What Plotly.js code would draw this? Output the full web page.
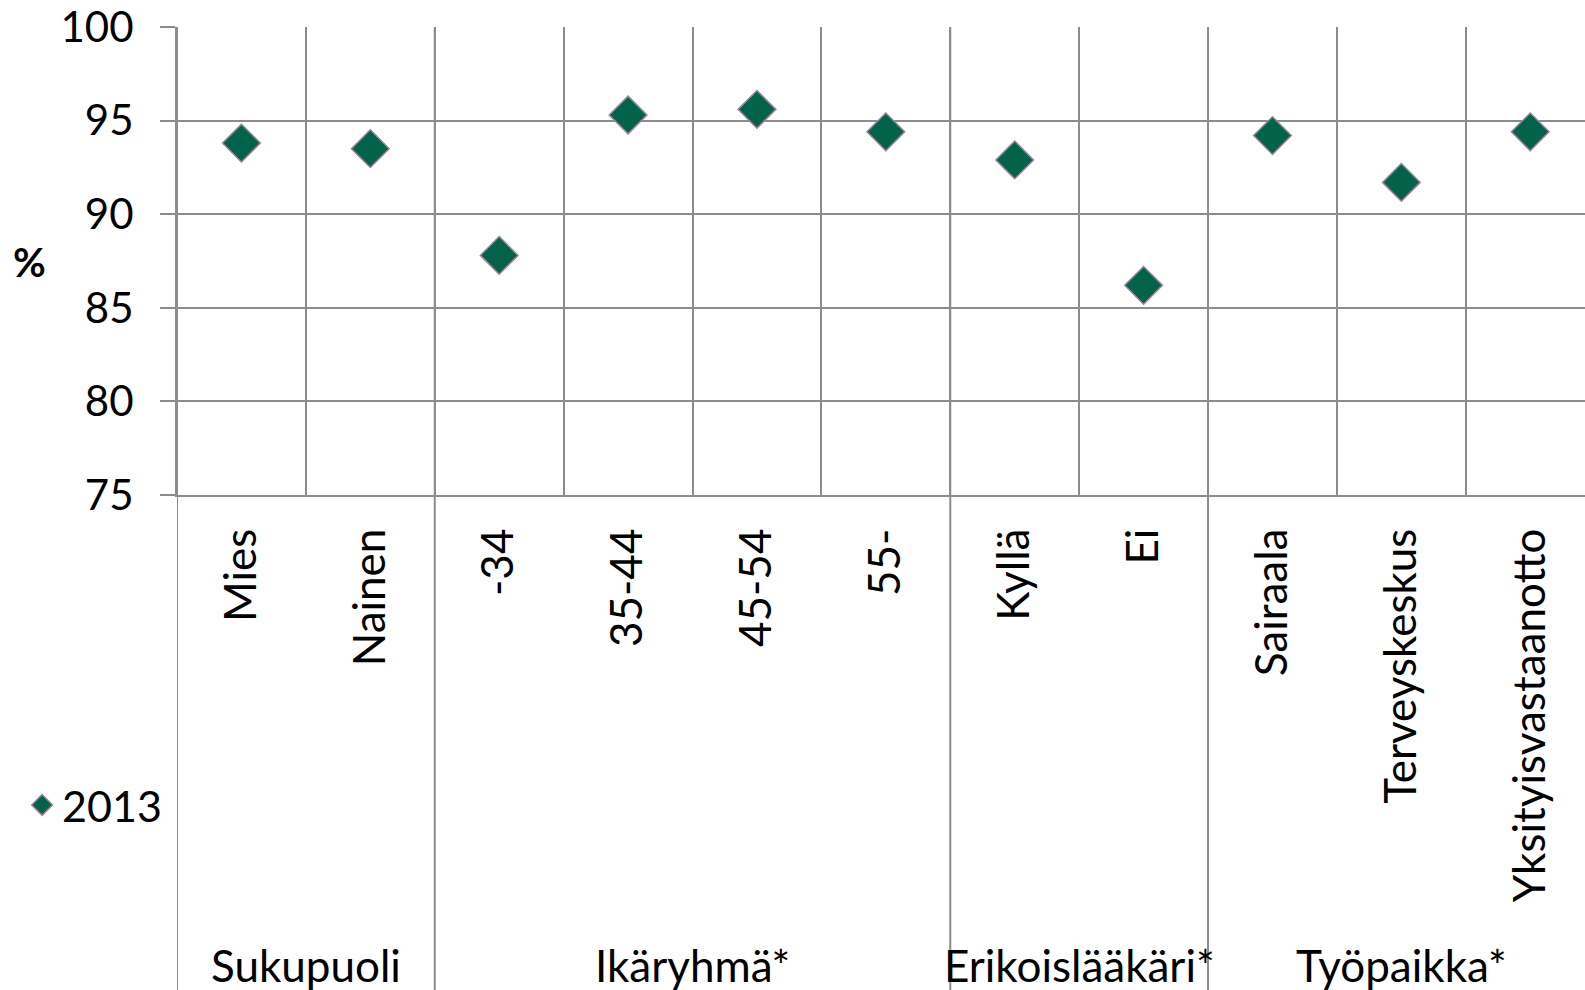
<!DOCTYPE html>
<html>
<head>
<meta charset="utf-8">
<script src="https://cdn.plot.ly/plotly-3.0.1.min.js"></script>
<style>
  html, body { margin: 0; padding: 0; background: #ffffff; }
  #chart { width: 1585px; height: 990px; }
</style>
</head>
<body>
<div id="chart"></div>
<script>
// ---- Data ----
const categories = ["Mies", "Nainen", "-34", "35-44", "45-54", "55-", "Kyllä", "Ei", "Sairaala", "Terveyskeskus", "Yksityisvastaanotto"];
const values2013 = [93.8, 93.5, 87.8, 95.3, 95.6, 94.4, 92.9, 86.2, 94.2, 91.7, 94.4];
const groupOfCategory = ["Sukupuoli", "Sukupuoli", "Ikäryhmä*", "Ikäryhmä*", "Ikäryhmä*", "Ikäryhmä*", "Erikoislääkäri*", "Erikoislääkäri*", "Työpaikka*", "Työpaikka*", "Työpaikka*"];
const seriesName = "2013";
const yTicks = [75, 80, 85, 90, 95, 100];

// ---- Styling ----
const FONT = "Lato, 'Open Sans', sans-serif";
const GRID = "#8c8c8c";
const plotTopPx = 27, plotBottomPx = 495;
const plotHeightPx = plotBottomPx - plotTopPx;
const pxToPaperY = px => (plotBottomPx - px) / plotHeightPx;

// groups derived from data
const groups = [];
groupOfCategory.forEach((g, i) => {
  let last = groups[groups.length - 1];
  if (!last || last.name !== g) { groups.push({ name: g, first: i, last: i }); }
  else { last.last = i; }
});

const shapes = groups.map(g => ({
  type: "line", xref: "x", yref: "paper",
  x0: g.first - 0.5, x1: g.first - 0.5,
  y0: 1, y1: pxToPaperY(1000),
  line: { color: GRID, width: 2 }, layer: "below"
}));

const annotations = groups.map(g => ({
  xref: "x", yref: "paper",
  x: (g.first + g.last) / 2, y: pxToPaperY(965),
  xanchor: "center", yanchor: "middle",
  text: g.name, showarrow: false,
  font: { family: FONT, size: 44, color: "#000" }
}));
annotations.push({
  xref: "paper", yref: "paper",
  x: (29 - 177) / (1585 - 177), y: pxToPaperY(262),
  xanchor: "center", yanchor: "middle",
  text: "<b>%</b>", showarrow: false,
  font: { family: FONT, size: 40, color: "#000" }
});

const trace = {
  type: "scatter", mode: "markers",
  x: categories, y: values2013, name: seriesName,
  marker: { symbol: "diamond", size: 29, color: "#02634a", line: { color: "#9c8296", width: 1.5 } },
  cliponaxis: false
};

const layout = {
  width: 1585, height: 990,
  margin: { l: 177, r: 0, t: plotTopPx, b: 990 - plotBottomPx, pad: 0 },
  paper_bgcolor: "#ffffff", plot_bgcolor: "#ffffff",
  font: { family: FONT, color: "#000" },
  showlegend: true,
  legend: {
    x: -0.110, xanchor: "left", y: pxToPaperY(805), yanchor: "middle",
    font: { family: FONT, size: 43, color: "#000" },
    bgcolor: "rgba(0,0,0,0)", borderwidth: 0
  },
  xaxis: {
    type: "category", range: [-0.5, 10.425],
    tickson: "boundaries", showgrid: true, gridcolor: GRID, gridwidth: 2,
    showline: true, linecolor: GRID, linewidth: 2,
    ticks: "", tickangle: -90, ticklabelstandoff: 14,
    tickfont: { family: FONT, size: 44, color: "#000" },
    zeroline: false, fixedrange: true
  },
  yaxis: {
    range: [75, 100], tickvals: yTicks, ticktext: yTicks.map(String),
    showgrid: true, gridcolor: GRID, gridwidth: 2,
    showline: true, linecolor: GRID, linewidth: 2,
    ticks: "outside", ticklen: 15, tickcolor: GRID, tickwidth: 2,
    ticklabelstandoff: 18, ticklabeloverflow: "allow",
    tickfont: { family: FONT, size: 42, color: "#000" },
    zeroline: false, fixedrange: true
  },
  shapes: shapes,
  annotations: annotations
};

Plotly.newPlot("chart", [trace], layout, { staticPlot: true, displayModeBar: false });
</script>
</body>
</html>
